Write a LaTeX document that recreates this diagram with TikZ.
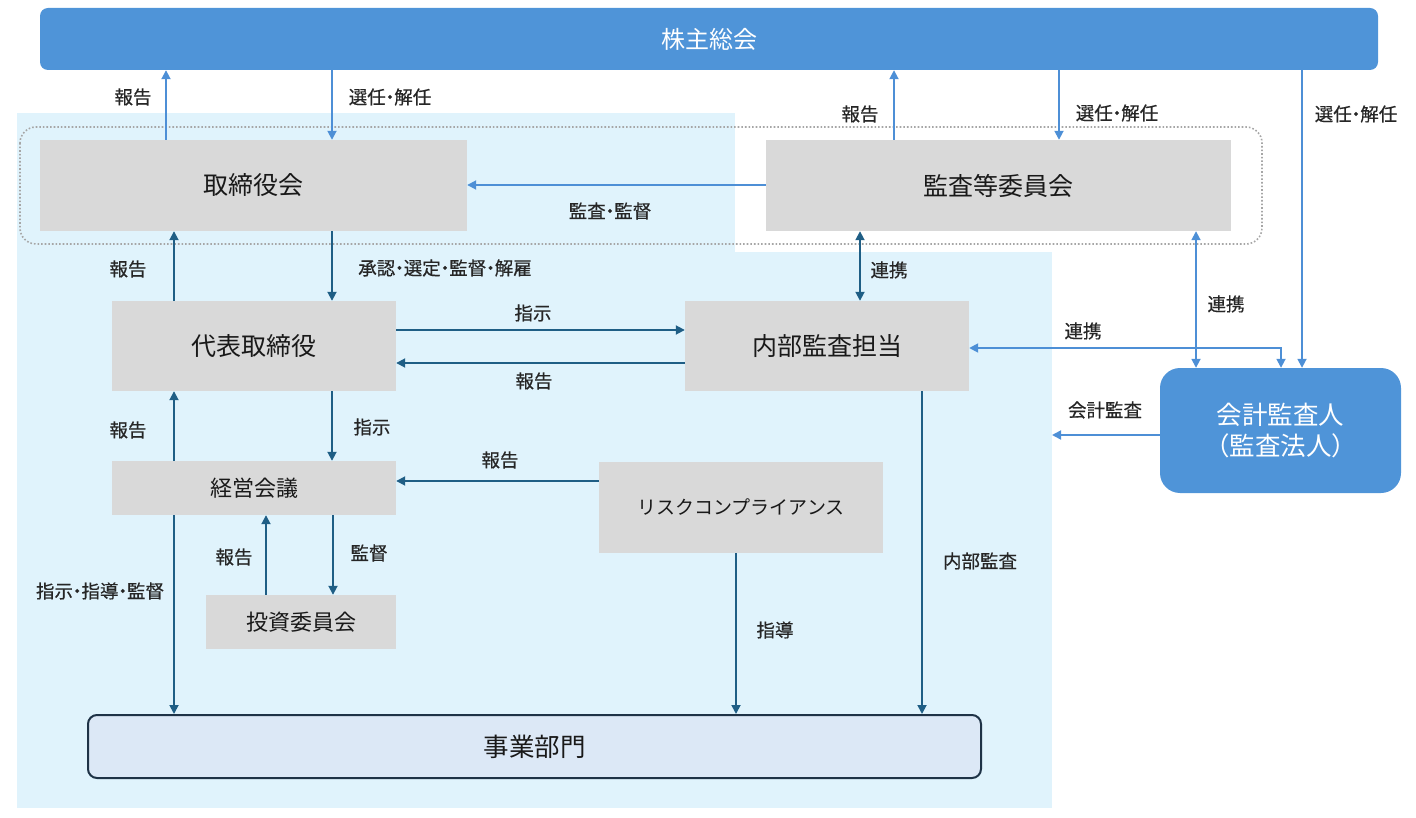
\documentclass[tikz,border=0pt]{standalone}
\usepackage{fontspec}
\setmainfont{Noto Sans CJK JP}
\newfontfamily\lblfont{Noto Sans CJK JP}[FakeBold=0.5]
\usetikzlibrary{arrows.meta,calc}
\definecolor{bgblue}{RGB}{224,243,252}
\definecolor{topblue}{RGB}{79,148,216}
\definecolor{larrow}{RGB}{77,143,214}
\definecolor{darrow}{RGB}{31,94,133}
\definecolor{gfill}{RGB}{217,217,217}
\definecolor{bizfill}{RGB}{220,232,246}
\definecolor{bizline}{RGB}{30,50,70}
\newcommand{\md}{\hspace{-0.27em}・\hspace{-0.27em}}
\tikzset{
  gbox/.style={fill=gfill, draw=none, inner sep=0pt, font=\fontsize{25}{29}\selectfont, text=black!90},
  bluebox/.style={fill=topblue, draw=none, inner sep=0pt, text=white},
  lbl/.style={inner sep=0pt, font=\lblfont\fontsize{18.5}{21}\selectfont, text=black!85},
  la/.style={draw=larrow, line width=1.8pt, -{Triangle[length=9pt,width=9pt]}},
  lab/.style={draw=larrow, line width=1.8pt, {Triangle[length=9pt,width=9pt]}-{Triangle[length=9pt,width=9pt]}},
  da/.style={draw=darrow, line width=1.8pt, -{Triangle[length=9pt,width=9pt]}},
  dab/.style={draw=darrow, line width=1.8pt, {Triangle[length=9pt,width=9pt]}-{Triangle[length=9pt,width=9pt]}},
}
\begin{document}
\begin{tikzpicture}[x=1pt,y=-1pt]
\useasboundingbox (0,0) rectangle (1416,818);
% light blue background zones
\fill[bgblue] (17,113) rectangle (735,252);
\fill[bgblue] (17,252) rectangle (1052,808);
% dotted group
\draw[gray!70, dotted, line width=1.6pt, rounded corners=16pt] (20,127) rectangle (1262,244);

% nodes
\node[bluebox, rounded corners=8pt, minimum width=1338pt, minimum height=62pt, font=\fontsize{24}{28}\selectfont] (kabu) at (709,39) {株主総会};
\node[gbox, minimum width=427pt, minimum height=91pt] (tb) at (253.5,185.5) {取締役会};
\node[gbox, minimum width=465pt, minimum height=91pt] (kan) at (998.5,185.5) {監査等委員会};
\node[gbox, minimum width=284pt, minimum height=90pt] (dai) at (254,346) {代表取締役};
\node[gbox, minimum width=284pt, minimum height=90pt] (nai) at (827,346) {内部監査担当};
\node[gbox, minimum width=284pt, minimum height=54pt, font=\fontsize{22}{26}\selectfont] (kei) at (254,488) {経営会議};
\node[gbox, minimum width=284pt, minimum height=91pt, font=\fontsize{19}{23}\selectfont] (risk) at (741,507.5) {リスクコンプライアンス};
\node[gbox, minimum width=190pt, minimum height=54pt, font=\fontsize{22}{26}\selectfont] (toshi) at (301,622) {投資委員会};
\node[fill=bizfill, draw=bizline, line width=2pt, rounded corners=9pt, minimum width=893pt, minimum height=63pt, inner sep=0pt, font=\fontsize{25.5}{29}\selectfont, text=black!90] (biz) at (534.5,746.5) {事業部門};
\node[bluebox, rounded corners=20pt, minimum width=241pt, minimum height=125pt, align=center, font=\fontsize{25.5}{31}\selectfont] (kaikei) at (1280.5,430.5) {会計監査人\\（監査法人）};

% helper coordinates
\coordinate (x166) at (166,0);
\coordinate (x332) at (332,0);
\coordinate (x894) at (894,0);
\coordinate (x1059) at (1059,0);
\coordinate (x1302) at (1302,0);
\coordinate (x1196) at (1196,0);
\coordinate (x1281) at (1281,0);
\coordinate (x860) at (860,0);
\coordinate (x174) at (174,0);
\coordinate (x266) at (266,0);
\coordinate (x333) at (333,0);
\coordinate (x736) at (736,0);
\coordinate (x922) at (922,0);
\coordinate (y185) at (0,185);
\coordinate (y330) at (0,330);
\coordinate (y363) at (0,363);
\coordinate (y348) at (0,348);
\coordinate (y481) at (0,481);
\coordinate (y435) at (0,435);
\coordinate (gap) at (1052,435);

% connectors to/from shareholders
\draw[la] (tb.north -| x166) -- (kabu.south -| x166);
\draw[la] (kabu.south -| x332) -- (tb.north -| x332);
\draw[la] (kan.north -| x894) -- (kabu.south -| x894);
\draw[la] (kabu.south -| x1059) -- (kan.north -| x1059);
\draw[la] (kabu.south -| x1302) -- (kaikei.north -| x1302);
\draw[la] (kan.west |- y185) -- (tb.east |- y185);
\draw[dab] (kan.south -| x860) -- (nai.north -| x860);
\draw[lab] (kan.south -| x1196) -- (kaikei.north -| x1196);
\draw[lab] (kaikei.north -| x1281) |- (nai.east |- y348);
\draw[la] (kaikei.west |- y435) -- (gap);

% internal connectors
\draw[da] (dai.north -| x174) -- (tb.south -| x174);
\draw[da] (tb.south -| x332) -- (dai.north -| x332);
\draw[da] (dai.east |- y330) -- (nai.west |- y330);
\draw[da] (nai.west |- y363) -- (dai.east |- y363);
\draw[da] (kei.north -| x174) -- (dai.south -| x174);
\draw[da] (dai.south -| x332) -- (kei.north -| x332);
\draw[da] (risk.west |- y481) -- (kei.east |- y481);
\draw[da] (toshi.north -| x266) -- (kei.south -| x266);
\draw[da] (kei.south -| x333) -- (toshi.north -| x333);
\draw[da] (kei.south -| x174) -- (biz.north -| x174);
\draw[da] (risk.south -| x736) -- (biz.north -| x736);
\draw[da] (nai.south -| x922) -- (biz.north -| x922);

% labels
\node[lbl] (l1) at (133,97) {報告};
\node[lbl] (l2) at (390,97) {選任\md 解任};
\node[lbl] (l3) at (860,114) {報告};
\node[lbl] (l4) at (1117,113) {選任\md 解任};
\node[lbl] (l5) at (1356,114) {選任\md 解任};
\node[lbl] (l6) at (610,211) {監査\md 監督};
\node[lbl] (l7) at (128,269) {報告};
\node[lbl] (l8) at (445,268) {承認\md 選定\md 監督\md 解雇};
\node[lbl] (l9) at (889,270) {連携};
\node[lbl] (l10) at (1226,304) {連携};
\node[lbl] (l11) at (1083,331) {連携};
\node[lbl] (l12) at (533,313) {指示};
\node[lbl] (l13) at (534,381) {報告};
\node[lbl] (l14) at (1105,410) {会計監査};
\node[lbl] (l15) at (128,430) {報告};
\node[lbl] (l16) at (372,427) {指示};
\node[lbl] (l17) at (500,460) {報告};
\node[lbl] (l18) at (234,557) {報告};
\node[lbl] (l19) at (369,553) {監督};
\node[lbl] (l20) at (100,591) {指示\md 指導\md 監督};
\node[lbl] (l21) at (775,630) {指導};
\node[lbl] (l22) at (980,561) {内部監査};
\end{tikzpicture}
\end{document}
